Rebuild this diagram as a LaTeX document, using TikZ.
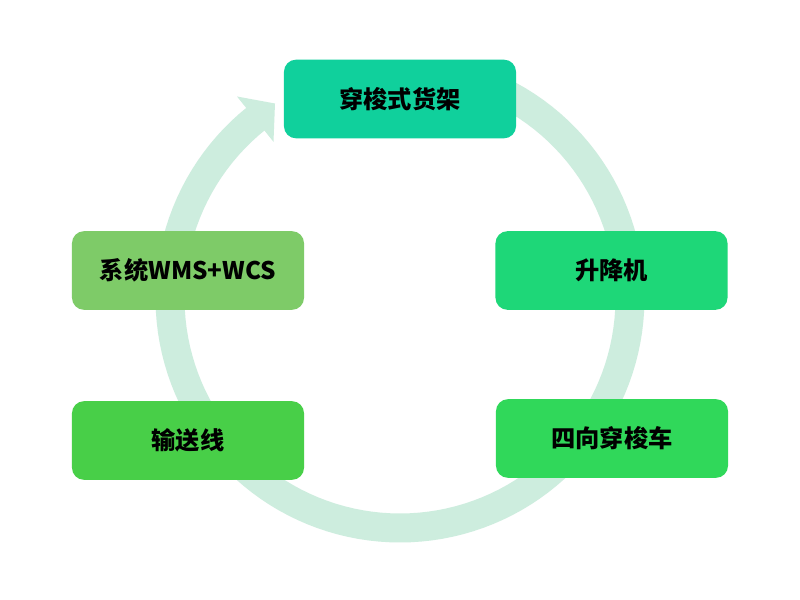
\documentclass[tikz,border=0pt]{standalone}
\usepackage{fontspec}
\newfontfamily\cjk{Noto Sans CJK SC}
\definecolor{ringc}{RGB}{205,237,222}
\definecolor{ctop}{RGB}{16,208,156}
\definecolor{clift}{RGB}{30,215,120}
\definecolor{ccar}{RGB}{48,216,90}
\definecolor{csys}{RGB}{126,203,104}
\definecolor{cconv}{RGB}{72,207,72}
\tikzset{
  box/.style={rounded corners=0.36cm, minimum width=6.96cm, minimum height=2.36cm,
    inner sep=0pt, font=\cjk\bfseries\fontsize{20.7}{24}\selectfont, text=black},
  ring/.style={draw=ringc, line width=0.87cm}
}
\begin{document}
\begin{tikzpicture}[x=0.03cm,y=-0.03cm]
\useasboundingbox (0,0) rectangle (800,600);
\fill[white] (0,0) rectangle (800,600);
% ring
\coordinate (c) at (400,298);
\draw[ring] plot[domain=-64:231.5, samples=120] ({400+230*cos(\x)},{298+230*sin(\x)});
\coordinate (hA) at (237,96.5);
\coordinate (hB) at (273.5,141.8);
\coordinate (hT) at (275,103.5);
\fill[ringc] (hA) -- (hT) -- (hB) -- cycle;
% boxes
\node[box, fill=ctop]  (shelf) at (400,99)  {穿梭式货架};
\node[box, fill=clift] (lift)  at (611.5,270.5) {升降机};
\node[box, fill=ccar]  (car)   at (612,438.5) {四向穿梭车};
\node[box, fill=csys]  (sys)   at (188,270.5) {系统WMS+WCS};
\node[box, fill=cconv] (conv)  at (188,440.5) {输送线};
\end{tikzpicture}
\end{document}
